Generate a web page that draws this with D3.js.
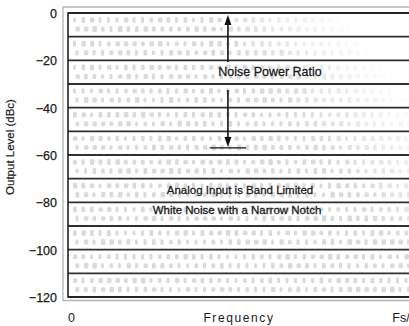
<!DOCTYPE html>
<html>
<head>
<meta charset="utf-8">
<script src="https://cdn.jsdelivr.net/npm/d3@7"></script>
<style>
  html, body { margin: 0; padding: 0; background: #fff; }
  svg { display: block; }
  text { font-family: "Liberation Sans", Arial, sans-serif; fill: #1a1a1a; }
</style>
</head>
<body>
<svg id="chart" width="409" height="326"></svg>
<script>
// Output level axis (dBc), gridlines every 10 dB
const levelTicks = [0, -20, -40, -60, -80, -100, -120];
const gridLevels = [0, -10, -20, -30, -40, -50, -60, -70, -80, -90, -100, -110, -120];
// Frequency axis runs from DC to Fs/2
const freqTicks = [0, 0.5];
const freqTickLabels = ["0", "Fs/2"];
// Noise power ratio annotation: full-scale noise level down to the notch floor
const nprTop = 0;
const notchLevel = -57;
const notchFreq = 0.238;
const notchHalfWidth = 0.027;

const svg = d3.select("#chart");
const W = 409, H = 326;
const plotLeft = 68, plotRight = 404, plotTop = 13, plotBottom = 297;

const y = d3.scaleLinear().domain([0, -120]).range([plotTop, plotBottom]);
const x = d3.scaleLinear().domain([0, 0.5]).range([plotLeft, plotRight]);

// faint speckled noise texture inside the plot, fading out toward the upper right
const defs = svg.append("defs");
const grad = defs.append("linearGradient").attr("id", "fade")
  .attr("gradientUnits", "userSpaceOnUse")
  .attr("x1", 270).attr("y1", 85).attr("x2", 350).attr("y2", 20);
grad.append("stop").attr("offset", 0).attr("stop-color", "#fff").attr("stop-opacity", 1);
grad.append("stop").attr("offset", 1).attr("stop-color", "#fff").attr("stop-opacity", 0);
const mask = defs.append("mask").attr("id", "texMask");
mask.append("rect").attr("x", plotLeft).attr("y", plotTop).attr("width", W).attr("height", plotBottom - plotTop)
  .attr("fill", "url(#fade)");
defs.append("filter").attr("id", "soft")
  .append("feGaussianBlur").attr("stdDeviation", 0.5);

const tex = svg.append("g").attr("mask", "url(#texMask)").attr("fill", "#dadada")
  .attr("filter", "url(#soft)");
const bandH = y(-10) - y(0);
const rows = [];
for (let i = 0; i < 12; i++) {
  rows.push(y(-10 * i) + bandH * 0.3);
  rows.push(y(-10 * i) + bandH * 0.68);
}
const cols = d3.range(plotLeft + 5, W + 5, 8.5);
let k = 3;
rows.forEach((ry, ri) => {
  cols.forEach((cx, ci) => {
    k = (k * 17 + ri * 5 + ci * 3 + 7) % 23;
    const w = 3 + (k % 3) * 0.7;
    const h = 4.5 + (k % 4) * 0.5;
    tex.append("rect")
      .attr("x", cx + (ri % 2) * 2.5)
      .attr("y", ry - h / 2)
      .attr("width", w).attr("height", h).attr("rx", 1.2);
  });
});

// gridlines
svg.append("g").selectAll("line").data(gridLevels).join("line")
  .attr("x1", plotLeft).attr("x2", W + 5)
  .attr("y1", d => y(d)).attr("y2", d => y(d))
  .attr("stroke", "#2f2f2f").attr("stroke-width", 1.8);

// frame: outer light border, inner dark border
svg.append("path")
  .attr("d", `M${W + 5},${plotTop - 6}H${plotLeft - 5}V${plotBottom + 3.5}H${W + 5}`)
  .attr("fill", "none").attr("stroke", "#b5b5b5").attr("stroke-width", 1.3);
svg.append("path")
  .attr("d", `M${W + 5},${plotTop}H${plotLeft}V${plotBottom}H${W + 5}`)
  .attr("fill", "none").attr("stroke", "#222").attr("stroke-width", 1.6);

// y-axis labels
const yAxis = d3.axisLeft(y).tickValues(levelTicks).tickSize(0).tickPadding(0);
const yg = svg.append("g").attr("transform", `translate(${plotLeft - 11},0)`).call(yAxis);
yg.select(".domain").remove();
yg.selectAll("text").attr("font-size", 12.5).attr("font-family", "Liberation Sans, Arial, sans-serif")
  .style("fill", "#1a1a1a").style("stroke", "#1a1a1a").style("stroke-width", 0.25)
  .attr("dy", "0.36em");

// x-axis labels
const xAxis = d3.axisBottom(x).tickValues(freqTicks).tickFormat((d, i) => freqTickLabels[i])
  .tickSize(0).tickPadding(0);
const xg = svg.append("g").attr("transform", `translate(0,${plotBottom + 16})`).call(xAxis);
xg.select(".domain").remove();
xg.selectAll("text").attr("font-size", 12.5).attr("font-family", "DejaVu Sans, sans-serif")
  .style("fill", "#1a1a1a");
xg.selectAll("text").filter((d, i) => i === 0).attr("dx", 3);

// axis titles
svg.append("text")
  .attr("x", 239).attr("y", 322)
  .attr("text-anchor", "middle").attr("font-size", 12)
  .attr("font-family", "DejaVu Sans, sans-serif")
  .attr("letter-spacing", 1.6)
  .text("Frequency");
svg.append("text")
  .attr("transform", `translate(14,${147}) rotate(-90)`)
  .attr("text-anchor", "middle").attr("font-size", 11.5)
  .style("stroke", "#1a1a1a").style("stroke-width", 0.2)
  .text("Output Level (dBc)");

// noise power ratio arrow
const ax = x(notchFreq);
const arr = svg.append("g").attr("stroke", "#111").attr("fill", "#111");
const textY = 72;
arr.append("line").attr("x1", ax).attr("x2", ax)
  .attr("y1", y(nprTop) + 8).attr("y2", textY - 10).attr("stroke-width", 1.6);
arr.append("line").attr("x1", ax).attr("x2", ax)
  .attr("y1", textY + 18).attr("y2", y(notchLevel) - 8).attr("stroke-width", 1.6);
arr.append("path")
  .attr("d", `M${ax},${y(nprTop) + 2}L${ax - 3.5},${y(nprTop) + 12}L${ax + 3.5},${y(nprTop) + 12}Z`)
  .attr("stroke", "none");
arr.append("path")
  .attr("d", `M${ax},${y(notchLevel) - 1}L${ax - 3.5},${y(notchLevel) - 11}L${ax + 3.5},${y(notchLevel) - 11}Z`)
  .attr("stroke", "none");
arr.append("line")
  .attr("x1", x(notchFreq - notchHalfWidth)).attr("x2", x(notchFreq + notchHalfWidth))
  .attr("y1", y(notchLevel)).attr("y2", y(notchLevel)).attr("stroke-width", 1.4);

const notes = svg.append("g").style("stroke", "#1a1a1a").style("stroke-width", 0.3);
notes.append("text").attr("x", 270).attr("y", textY + 4)
  .attr("text-anchor", "middle").attr("font-size", 12.5)
  .text("Noise Power Ratio");
notes.append("text").attr("x", 240).attr("y", 194)
  .attr("text-anchor", "middle").attr("font-size", 11.5)
  .text("Analog Input is Band Limited");
notes.append("text").attr("x", 237).attr("y", 214)
  .attr("text-anchor", "middle").attr("font-size", 11.5)
  .text("White Noise with a Narrow Notch");
</script>
</body>
</html>
